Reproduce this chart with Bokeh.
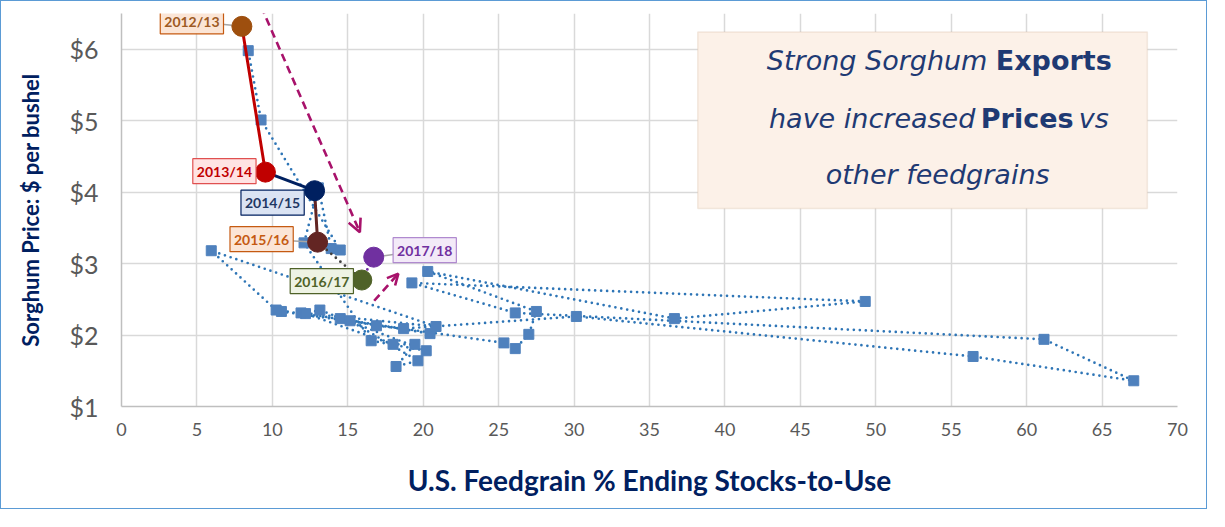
from bokeh.plotting import figure
from bokeh.models import (Range1d, FixedTicker, NumeralTickFormatter, Label,
                          BoxAnnotation, Arrow, OpenHead)
from bokeh.embed import file_html
from bokeh.resources import INLINE

# ---------------- data ----------------
# historical seasons (chronological), feedgrain ending stocks-to-use (%) and sorghum price ($/bu)
hist_stocks = [10.6, 25.35, 26.1, 27.0, 27.5, 20.3, 36.65, 49.3, 19.25, 26.1,
               61.15, 67.1, 56.45, 30.15, 18.7, 16.9, 14.5, 20.45, 11.9, 20.85,
               5.95, 10.25, 15.15, 19.65, 18.2, 19.45, 18.0, 12.2, 13.15, 20.2,
               16.55, 12.1, 13.05, 13.9, 14.5, 9.25, 8.4]
hist_price = [2.33, 1.89, 1.81, 2.01, 2.33, 2.89, 2.23, 2.47, 2.73, 2.31,
              1.94, 1.36, 1.70, 2.26, 2.09, 2.13, 2.23, 2.02, 2.31, 2.12,
              3.18, 2.35, 2.20, 1.64, 1.56, 1.87, 1.87, 2.30, 2.35, 1.78,
              1.92, 3.29, 4.06, 3.21, 3.19, 5.01, 5.98]

hl_labels = ["2012/13", "2013/14", "2014/15", "2015/16", "2016/17", "2017/18"]
hl_stocks = [7.98, 9.54, 12.8, 13.0, 15.93, 16.72]
hl_price = [6.32, 4.28, 4.02, 3.30, 2.77, 3.09]

x_ticks = [0, 5, 10, 15, 20, 25, 30, 35, 40, 45, 50, 55, 60, 65, 70]
y_ticks = [1, 2, 3, 4, 5, 6]

# ---------------- styles ----------------
NAVY = "#002060"
hl_colors = ["#9E4F0E", "#C00000", "#002060", "#632523", "#4F6228", "#7030A0"]
lab_text = ["#9E5A23", "#C00000", "#1F3864", "#C55A11", "#4F6228", "#7030A0"]
lab_fill = ["#FBE5D6", "#FFE3E3", "#DAE3F3", "#FBE5D6", "#EEF3E4", "#F3EAF8"]
lab_line = ["#C55A11", "#E05050", "#002060", "#C55A11", "#4F6228", "#B08ACF"]
lab_off = [(-50, 5), (-41, 1), (-42, -12), (-56, 3), (-40, -1), (51, 7)]
seg_style = [("#C00000", "solid", 3), ("#002060", "solid", 3), ("#632523", "solid", 3),
             ("#3F3F3F", "0 6", 2.8), ("#7030A0", "0 6", 2.8)]

W, H = 1207, 509
ML, MR, MT, MB = 120, 31, 12, 104
X0, X1, Y0, Y1 = 0, 70, 1, 6.5

p = figure(width=W, height=H, x_range=Range1d(X0, X1), y_range=Range1d(Y0, Y1),
           output_backend="svg", toolbar_location=None,
           min_border_left=ML, min_border_right=MR, min_border_top=MT, min_border_bottom=MB)
p.styles = {"border": "1.5px solid #5B9BD5"}
p.outline_line_color = None
p.background_fill_color = "white"
p.border_fill_color = "white"

ppx = (W - ML - MR) / (X1 - X0)
ppy = (H - MT - MB) / (Y1 - Y0)

# axes
p.xaxis.ticker = FixedTicker(ticks=x_ticks)
p.yaxis.ticker = FixedTicker(ticks=y_ticks)
p.yaxis.formatter = NumeralTickFormatter(format="$0")
for ax in (p.xaxis, p.yaxis):
    ax.major_tick_line_color = None
    ax.minor_tick_line_color = None
    ax.axis_line_color = "#BFBFBF"
    ax.axis_line_width = 1.5
    ax.major_label_text_color = "#595959"
    ax.major_label_text_font = "Lato"
    ax.axis_label_text_font = "Lato"
    ax.axis_label_text_font_style = "bold"
    ax.axis_label_text_color = NAVY
p.xaxis.major_label_text_font_size = "18px"
p.yaxis.major_label_text_font_size = "25px"
p.xaxis.major_label_standoff = 10
p.yaxis.major_label_standoff = 17
p.xaxis.axis_label = "U.S. Feedgrain % Ending Stocks-to-Use"
p.xaxis.axis_label_text_font_size = "28px"
p.xaxis.axis_label_standoff = 24
p.yaxis.axis_label = "Sorghum Price: $ per bushel"
p.yaxis.axis_label_text_font_size = "22px"
p.yaxis.axis_label_standoff = 22

p.xgrid.grid_line_color = "#D9D9D9"
p.ygrid.grid_line_color = "#D9D9D9"
p.xgrid.grid_line_width = 1.5
p.ygrid.grid_line_width = 1.5

# historical series
p.line(hist_stocks, hist_price, line_color="#2E75B6", line_width=2.7,
       line_dash="0 6", line_cap="round")
p.scatter(hist_stocks, hist_price, marker="square", size=10,
          fill_color="#4F81BD", line_color="#4F81BD")

# leader lines
lx = [hl_stocks[i] + lab_off[i][0] / ppx for i in range(len(hl_labels))]
ly = [hl_price[i] + lab_off[i][1] / ppy for i in range(len(hl_labels))]
p.segment(x0=hl_stocks, y0=hl_price, x1=lx, y1=ly, line_color="#A6A6A6", line_width=1.5)

# highlighted path
for i, (c, d, w) in enumerate(seg_style):
    p.line([hl_stocks[i], hl_stocks[i + 1]], [hl_price[i], hl_price[i + 1]],
           line_color=c, line_width=w, line_dash=d, line_cap="round")
p.scatter(hl_stocks, hl_price, marker="circle", size=20,
          fill_color=hl_colors, line_color=hl_colors)

for i, t in enumerate(hl_labels):
    p.add_layout(Label(x=hl_stocks[i], y=hl_price[i], x_offset=lab_off[i][0],
                       y_offset=lab_off[i][1], text=t, text_align="center",
                       text_baseline="middle", text_font="Lato", text_font_style="bold",
                       text_font_size="14px", text_color=lab_text[i],
                       background_fill_color=lab_fill[i], border_line_color=lab_line[i],
                       border_line_width=1.2, padding=4))

# trend arrows
MAG = "#A8126B"
p.add_layout(Arrow(x_start=9.25, y_start=6.6, x_end=15.8, y_end=3.44,
                   line_color=MAG, line_width=2.6, line_dash="8 5",
                   end=OpenHead(line_color=MAG, line_width=2.6, size=13)))
p.add_layout(Arrow(x_start=16.75, y_start=2.48, x_end=18.35, y_end=2.86,
                   line_color=MAG, line_width=2.6, line_dash="8 5",
                   end=OpenHead(line_color=MAG, line_width=2.6, size=11)))

# text box
p.add_layout(BoxAnnotation(left=38.2, right=68.0, bottom=3.77, top=6.24,
                           fill_color="#FCF1E8", fill_alpha=1.0,
                           line_color="#D8BCA6", line_width=1.5))
TXT = "#1F3A73"
BF = "DejaVu Sans"
def tl(x, y, t, align, style):
    p.add_layout(Label(x=x, y=y, text=t, text_align=align, text_baseline="middle",
                       text_font=BF, text_font_style=style, text_font_size="27px",
                       text_color=TXT))
tl(57.4, 5.84, "Strong Sorghum", "right", "italic")
tl(57.95, 5.84, "Exports", "left", "bold")
tl(56.6, 5.03, "have increased", "right", "italic")
tl(56.96, 5.03, "Prices", "left", "bold")
tl(63.45, 5.03, "vs", "left", "italic")
tl(54.1, 4.25, "other feedgrains", "center", "italic")

open("out.html", "w").write(file_html(p, INLINE))
